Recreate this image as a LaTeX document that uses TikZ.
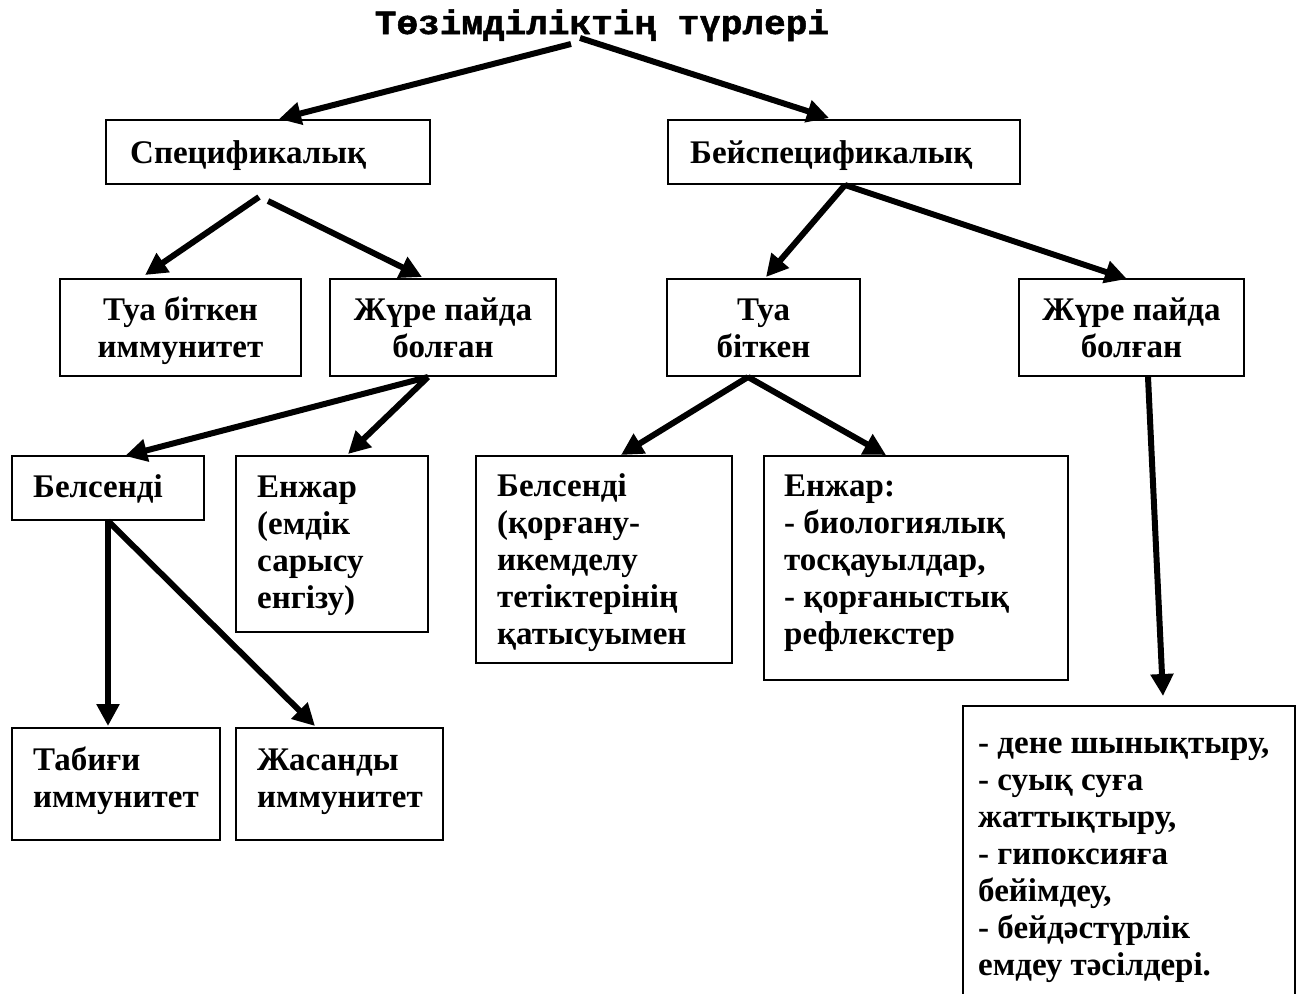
\documentclass[tikz,border=0pt]{standalone}
\usepackage{fontspec}
\usetikzlibrary{arrows.meta,calc}
\newfontfamily\bodyfam{Liberation Serif}
\newfontfamily\titlefam{Liberation Mono}[FakeStretch=1.06, BoldFeatures={FakeBold=1.5}]
\newcommand\bodyf{\bodyfam\bfseries\fontsize{33}{37}\selectfont}
\newcommand\titlef{\titlefam\bfseries\fontsize{34}{38}\selectfont}
\newcommand\Lcol[1]{\begin{tabular}[t]{@{}l@{}}#1\end{tabular}}
\newcommand\Ccol[1]{\begin{tabular}[t]{@{}c@{}}#1\end{tabular}}
\tikzset{
  box/.style={draw, line width=2pt, rectangle, inner sep=0pt},
  ltext/.style={font=\bodyf, inner sep=0pt, anchor=base west},
  ctext/.style={font=\bodyf, inner sep=0pt, anchor=base},
  arr/.style={line width=6pt, -{Triangle[length=22pt,width=22pt]}},
}
\begin{document}
\begin{tikzpicture}[x=1pt,y=-1pt]
\useasboundingbox (0,0) rectangle (1306,993);
\clip (0,0) rectangle (1306,993);
% title
\node[font=\titlef, inner sep=0pt, anchor=base] (title) at (602,34) {Төзімділіктің түрлері};
% boxes
\node[box, minimum width=324pt, minimum height=64pt] (spec) at (268,152) {};
\node[box, minimum width=352pt, minimum height=64pt] (bspec) at (844,152) {};
\node[box, minimum width=241pt, minimum height=97pt] (tuaL) at (180.5,327.5) {};
\node[box, minimum width=226pt, minimum height=97pt] (zhureL) at (443,327.5) {};
\node[box, minimum width=193pt, minimum height=97pt] (tuaR) at (763.5,327.5) {};
\node[box, minimum width=225pt, minimum height=97pt] (zhureR) at (1131.5,327.5) {};
\node[box, minimum width=192pt, minimum height=64pt] (belL) at (108,488) {};
\node[box, minimum width=192pt, minimum height=176pt] (enzhL) at (332,544) {};
\node[box, minimum width=256pt, minimum height=207pt] (belR) at (604,559.5) {};
\node[box, minimum width=304pt, minimum height=224pt] (enzhR) at (916,568) {};
\node[box, minimum width=208pt, minimum height=112pt] (tabigi) at (116,784) {};
\node[box, minimum width=207pt, minimum height=112pt] (zhasandy) at (339.5,784) {};
\node[box, minimum width=332pt, minimum height=314pt] (last) at (1129,863) {};
% texts
\node[ltext] (tspec) at (130,163) {Спецификалық};
\node[ltext] (tbspec) at (690,163) {Бейспецификалық};
\node[ctext] (ttuaL) at (180.5,320) {\Ccol{Туа біткен\\иммунитет}};
\node[ctext] (tzhureL) at (443,320) {\Ccol{Жүре пайда\\болған}};
\node[ctext] (ttuaR) at (763.5,320) {\Ccol{Туа\\біткен}};
\node[ctext] (tzhureR) at (1131.5,320) {\Ccol{Жүре пайда\\болған}};
\node[ltext] (tbelL) at (33,497) {Белсенді};
\node[ltext] (tenzhL) at (257,497) {\Lcol{Енжар\\(емдік\\сарысу\\енгізу)}};
\node[ltext] (tbelR) at (497,496) {\Lcol{Белсенді\\(қорғану-\\икемделу\\тетіктерінің\\қатысуымен}};
\node[ltext] (tenzhR) at (784,496) {\Lcol{Енжар:\\- биологиялық\\тосқауылдар,\\- қорғаныстық\\рефлекстер}};
\node[ltext] (ttabigi) at (33,770) {\Lcol{Табиғи\\иммунитет}};
\node[ltext] (tzhasandy) at (257,770) {\Lcol{Жасанды\\иммунитет}};
\node[ltext] (tlast) at (978,753) {\Lcol{- дене шынықтыру,\\- суық суға\\жаттықтыру,\\- гипоксияға\\бейімдеу,\\- бейдәстүрлік\\емдеу тәсілдері.}};
% arrows
\draw[arr] ([shift={(-31,10)}]title.base) -- ([shift={(174,0)}]spec.north west);
\draw[arr] ([shift={(-22,4)}]title.base) -- ([shift={(162,-1)}]bspec.north west);
\draw[arr] ([shift={(-9,12)}]spec.south) -- ([shift={(86,-3)}]tuaL.north west);
\draw[arr] ([shift={(0,16)}]spec.south) -- ([shift={(93,-1)}]zhureL.north west);
\draw[arr] ([shift={(1,0)}]bspec.south) -- ([shift={(2.5,-1)}]tuaR.north);
\draw[arr] ([shift={(1,0)}]bspec.south) -- ([shift={(109,1)}]zhureR.north west);
\draw[arr] ([shift={(-15,0)}]zhureL.south) -- ([shift={(17,1)}]belL.north);
\draw[arr] ([shift={(-15,0)}]zhureL.south) -- ([shift={(16,-1)}]enzhL.north);
\draw[arr] ([shift={(-15.5,0)}]tuaR.south) -- ([shift={(17,0)}]belR.north);
\draw[arr] ([shift={(-15.5,0)}]tuaR.south) -- ([shift={(-30,0)}]enzhR.north);
\draw[arr] (belL.south) -- ([shift={(-8,-1)}]tabigi.north);
\draw[arr] (belL.south) -- ([shift={(-24.5,-1)}]zhasandy.north);
\draw[arr] ([shift={(16.5,0)}]zhureR.south) -- ([shift={(34,-9)}]last.north);
\end{tikzpicture}
\end{document}
